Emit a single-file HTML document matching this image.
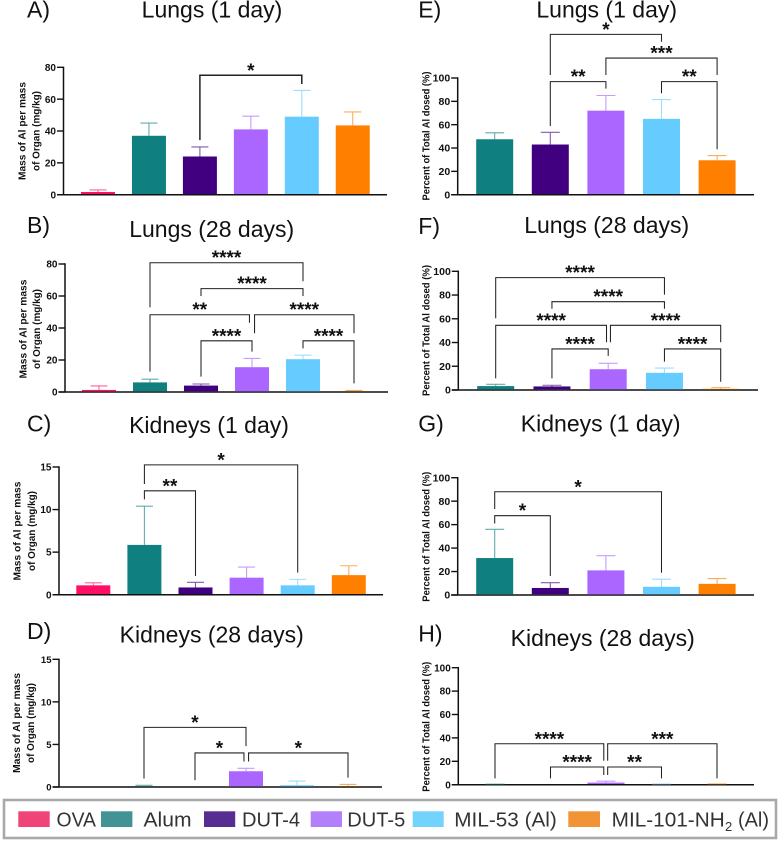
<!DOCTYPE html>
<html lang="en">
<head>
<meta charset="utf-8">
<title>Aluminium biodistribution bar charts</title>
<style>
html,body{margin:0;padding:0;background:#fff;}
svg{display:block;font-family:"Liberation Sans",Arial,sans-serif;filter:blur(0.3px);}
.title{font-size:23px;fill:#111;text-anchor:middle;}
.letter{font-size:23px;fill:#111;}
.tick{font-size:10px;font-weight:bold;fill:#111;text-anchor:end;}
.ylab{font-size:10px;font-weight:bold;fill:#111;text-anchor:middle;}
.stars{font-size:19px;font-weight:bold;fill:#111;text-anchor:middle;}
.leg{font-size:20px;fill:#333;}
</style>
</head>
<body>
<svg id="fig" xmlns="http://www.w3.org/2000/svg" width="779" height="841" viewBox="0 0 779 841">
  <g>
    <rect x="4" y="800" width="772" height="38" fill="#fff" stroke="#a9a9a9" stroke-width="2.6"/>
    <g><rect x="18.3" y="811.3" width="31.4" height="15.7" fill="#ee4478"/><text class="leg" x="56.5" y="826.7" textLength="39.5" lengthAdjust="spacingAndGlyphs">OVA</text></g>
    <g><rect x="101" y="811.3" width="31.4" height="15.7" fill="#439295"/><text class="leg" x="143.5" y="826.7" textLength="48" lengthAdjust="spacingAndGlyphs">Alum</text></g>
    <g><rect x="204" y="811.3" width="31.2" height="15.7" fill="#582d91"/><text class="leg" x="242" y="826.7" textLength="58" lengthAdjust="spacingAndGlyphs">DUT-4</text></g>
    <g><rect x="310.7" y="811.3" width="31.3" height="15.7" fill="#b380fc"/><text class="leg" x="347.3" y="826.7" textLength="58" lengthAdjust="spacingAndGlyphs">DUT-5</text></g>
    <g><rect x="412.7" y="811.3" width="31" height="15.7" fill="#72d3fc"/><text class="leg" x="454.3" y="826.7" textLength="102.5" lengthAdjust="spacingAndGlyphs">MIL-53 (Al)</text></g>
    <g><rect x="568.3" y="811.3" width="31.7" height="15.7" fill="#f19435"/><text class="leg" x="611.7" y="826.7" textLength="113" lengthAdjust="spacingAndGlyphs">MIL-101-NH</text><text class="leg" x="725" y="831" style="font-size:13px">2</text><text class="leg" x="738" y="826.7" textLength="31" lengthAdjust="spacingAndGlyphs">(Al)</text></g>
  </g>
</svg>
<script>
// Categories
var categoriesSix = ['OVA', 'Alum', 'DUT-4', 'DUT-5', 'MIL-53', 'MIL-101'];
var categoriesFive = ['Alum', 'DUT-4', 'DUT-5', 'MIL-53', 'MIL-101'];

// Tick labels
var ticksMassLung = [0, 20, 40, 60, 80];
var ticksMassKidney = [0, 5, 10, 15];
var ticksPercent = [0, 20, 40, 60, 80, 100];

// Means
var meansA = [1.7, 37, 24, 41, 49, 43.5];
var meansB = [1.3, 6, 4, 15.5, 20.5, 0.5];
var meansC = [1.1, 5.85, 0.85, 2.0, 1.1, 2.3];
var meansD = [0, 0.1, 0, 1.85, 0.2, 0.1];
var meansE = [47.5, 43, 72, 65, 29.5];
var meansF = [3.3, 3, 17.5, 14.5, 1];
var meansG = [31.5, 6, 21, 7, 9.5];
var meansH = [0.3, 0, 1.8, 0.3, 0.5];

// Upper end of each error bar
var uppersA = [3, 45, 30, 49.3, 65.5, 52];
var uppersB = [3.8, 8, 5, 21, 23, 1];
var uppersC = [1.4, 10.4, 1.45, 3.25, 1.8, 3.4];
var uppersD = [0, 0.2, 0, 2.2, 0.7, 0.3];
var uppersE = [53, 53.5, 85, 81.5, 33.5];
var uppersF = [4.8, 4, 22.5, 18.5, 2];
var uppersG = [56, 10.5, 33.5, 13.5, 14];
var uppersH = [0.5, 0, 3, 0.6, 0.7];

// Significance: from category, to category, top value, left end value, right end value, stars
var sigA = [[2, 4, 75, 34.3, 69.5, '*']];
var sigB = [[1, 4, 80.8, 52.9, 69.2, '****'], [2, 4, 64.6, 60, 60, '****'], [1, 2.95, 48.3, 12.7, 43.3, '**'], [3.05, 5, 48.3, 36.7, 36.7, '****'], [2, 3, 32, 9.6, 25.2, '****'], [4, 5, 32, 27.3, 5.4, '****']];
var sigC = [[1, 4, 15.25, 13, 2.6, '*'], [1, 2, 12.2, 11.2, 2.2, '**']];
var sigD = [[1, 3, 7, 1, 4.8, '*'], [2, 2.96, 4, 0.8, 3, '*'], [3.05, 5, 4, 3, 1.1, '*']];
var sigE = [[1, 3, 137.4, 102.6, 131.1, '*'], [2, 4, 117.1, 102.6, 102.6, '***'], [1, 2, 96.9, 58.9, 90.9, '**'], [3, 4, 96.9, 86.9, 38.9, '**']];
var sigF = [[0, 3, 94.7, 60.4, 80.3, '****'], [1, 3, 74.4, 68.5, 68.5, '****'], [0, 1.97, 54.5, 9.8, 40.2, '****'], [2.04, 4, 54.5, 40.2, 40.2, '****'], [1, 2, 34.6, 9.8, 28.7, '****'], [3, 4, 34.6, 23.9, 7, '****']];
var sigG = [[0, 3, 88, 73.3, 19, '*'], [0, 1, 67.6, 61, 16.2, '*']];
var sigH = [[0, 1.96, 35, 5.4, 20.5, '****'], [2.03, 4, 35, 20.5, 5.4, '***'], [1, 1.96, 15.1, 5.4, 8.3, '****'], [2.03, 3, 15.1, 8.3, 5.4, '**']];

var barColors = {'OVA': '#ff0f66', 'Alum': '#0f7f7f', 'DUT-4': '#400080', 'DUT-5': '#aa66ff', 'MIL-53': '#66ccff', 'MIL-101': '#ff8000'};

var svg = document.getElementById('fig');
var NS = 'http://www.w3.org/2000/svg';

function make(parent, tag, props, text) {
  var el = document.createElementNS(NS, tag);
  for (var k in props) { el.setAttribute(k, props[k]); }
  if (text !== undefined) { el.textContent = text; }
  parent.appendChild(el);
  return el;
}

function drawPanel(p) {
  var group = make(svg, 'g', {});
  
  

  var xScale = function (i) { return p.x0 + i * p.dx; };
  var yScale = function (v) { return p.y0 - v / p.yMax * (p.y0 - p.yTop); };

  var letter = make(group, 'text', {'class': 'letter', x: p.letterX, y: p.letterY}, p.id + ')');
  
  

  var title = make(group, 'text', {'class': 'title', x: p.titleX, y: p.titleY}, p.title);
  
  

  p.yLabels.forEach(function (lab) {
    var t = make(group, 'text', {'class': 'ylab', x: 0, y: 0, transform: 'translate(' + lab.x + ' ' + p.labelY + ') rotate(-90)', textLength: lab.len, lengthAdjust: 'spacingAndGlyphs'}, lab.text);
    
    
  });

  var yAxis = make(group, 'line', {x1: p.axisX, x2: p.axisX, y1: p.yTop - 0.7, y2: p.y0, stroke: '#111', 'stroke-width': 1.5});
  
  

  var xAxis = make(group, 'line', {x1: p.axisX - 6.5, x2: p.axisEnd, y1: p.y0, y2: p.y0, stroke: '#111', 'stroke-width': 1.5});
  
  

  p.cats.forEach(function (cat, i) {
    var cx = xScale(i);
    var color = barColors[cat];
    var top = yScale(p.means[i]);
    var up = yScale(p.uppers[i]);
    if (p.uppers[i] > 0) {
      var err = make(group, 'path', {d: 'M' + cx + ' ' + top + 'V' + up + 'M' + (cx - p.cap / 2) + ' ' + up + 'H' + (cx + p.cap / 2), fill: 'none', stroke: color, 'stroke-width': 1.1, 'stroke-opacity': 0.65});
      
      
    }
    var bar = make(group, 'rect', {x: cx - p.barW / 2, y: top, width: p.barW, height: Math.max(0, p.y0 - 0.7 - top), fill: color});
    
    
  });

  p.ticks.forEach(function (v) {
    var y = yScale(v);
    var mark = make(group, 'line', {x1: p.axisX - 6.5, x2: p.axisX, y1: y, y2: y, stroke: '#111', 'stroke-width': 1.4});
    
    
    var lab = make(group, 'text', {'class': 'tick', x: p.axisX - 7.5, y: y + 3.6, style: 'font-size:' + p.tickSize + 'px'}, String(v));
    
    
  });

  p.sig.forEach(function (s) {
    var xl = xScale(s[0]), xr = xScale(s[1]);
    var br = make(group, 'path', {d: 'M' + xl + ' ' + yScale(s[3]) + 'V' + yScale(s[2]) + 'H' + xr + 'V' + yScale(s[4]), fill: 'none', stroke: '#222', 'stroke-width': p.brW || 1.05});
    
    
    var st = make(group, 'text', {'class': 'stars', x: (xl + xr) / 2, y: yScale(s[2]) + 1.5}, s[5]);
    
    
  });
}

var massLabel = 'Mass of Al per mass';
var organLabel = 'of Organ (mg/kg)';
var pctLabel = 'Percent of Total Al dosed (%)';

[
 {id: 'A', title: 'Lungs (1 day)', titleX: 212, titleY: 17.5, letterX: 27, letterY: 17.5, cats: categoriesSix, means: meansA, uppers: uppersA, sig: sigA, ticks: ticksMassLung, tickSize: 10, yMax: 80, x0: 98, dx: 50.95, y0: 194.7, yTop: 67.3, axisX: 63.5, axisEnd: 387, barW: 34, cap: 17, brW: 1.5, labelY: 131, yLabels: [{x: 25.5, text: massLabel, len: 98}, {x: 39.5, text: organLabel, len: 80}]},
 {id: 'B', title: 'Lungs (28 days)', titleX: 211.7, titleY: 237, letterX: 27, letterY: 233, cats: categoriesSix, means: meansB, uppers: uppersB, sig: sigB, ticks: ticksMassLung, tickSize: 10, yMax: 80, x0: 99, dx: 51, y0: 392, yTop: 264, axisX: 65, axisEnd: 388, barW: 34, cap: 17, labelY: 329, yLabels: [{x: 26.5, text: massLabel, len: 99}, {x: 40, text: organLabel, len: 80}]},
 {id: 'C', title: 'Kidneys (1 day)', titleX: 209, titleY: 433, letterX: 27, letterY: 431.6, cats: categoriesSix, means: meansC, uppers: uppersC, sig: sigC, ticks: ticksMassKidney, tickSize: 10, yMax: 15, x0: 93.3, dx: 51.1, y0: 594.7, yTop: 467, axisX: 59, axisEnd: 383, barW: 34, cap: 17, labelY: 531, yLabels: [{x: 20.5, text: massLabel, len: 99}, {x: 35, text: organLabel, len: 80}]},
 {id: 'D', title: 'Kidneys (28 days)', titleX: 211.7, titleY: 642.7, letterX: 27, letterY: 639, cats: categoriesSix, means: meansD, uppers: uppersD, sig: sigD, ticks: ticksMassKidney, tickSize: 9.5, yMax: 15, x0: 93, dx: 51, y0: 787, yTop: 659.3, axisX: 59, axisEnd: 382, barW: 34, cap: 17, labelY: 723, yLabels: [{x: 20, text: massLabel, len: 100}, {x: 34, text: organLabel, len: 80}]},
 {id: 'E', title: 'Lungs (1 day)', titleX: 606.7, titleY: 17.5, letterX: 418.3, letterY: 17.5, cats: categoriesFive, means: meansE, uppers: uppersE, sig: sigE, ticks: ticksPercent, tickSize: 10.5, yMax: 100, x0: 494.7, dx: 55.6, y0: 194.7, yTop: 78, axisX: 457.7, axisEnd: 754, barW: 37, cap: 19, labelY: 136, yLabels: [{x: 429.5, text: pctLabel, len: 129}]},
 {id: 'F', title: 'Lungs (28 days)', titleX: 606.7, titleY: 233, letterX: 418.3, letterY: 234, cats: categoriesFive, means: meansF, uppers: uppersF, sig: sigF, ticks: ticksPercent, tickSize: 10.5, yMax: 100, x0: 495.7, dx: 56.25, y0: 390, yTop: 271.3, axisX: 458.3, axisEnd: 758, barW: 37, cap: 19, labelY: 330.5, yLabels: [{x: 429.5, text: pctLabel, len: 131}]},
 {id: 'G', title: 'Kidneys (1 day)', titleX: 600.7, titleY: 431.7, letterX: 418.3, letterY: 431.7, cats: categoriesFive, means: meansG, uppers: uppersG, sig: sigG, ticks: ticksPercent, tickSize: 10.5, yMax: 100, x0: 494.7, dx: 55.6, y0: 595, yTop: 477.7, axisX: 457.7, axisEnd: 754, barW: 37, cap: 19, labelY: 536.7, yLabels: [{x: 429.5, text: pctLabel, len: 130}]},
 {id: 'H', title: 'Kidneys (28 days)', titleX: 602.7, titleY: 646, letterX: 418.3, letterY: 641.7, cats: categoriesFive, means: meansH, uppers: uppersH, sig: sigH, ticks: ticksPercent, tickSize: 10, yMax: 100, x0: 495, dx: 55.5, y0: 784.7, yTop: 667.7, axisX: 458.3, axisEnd: 754, barW: 37, cap: 19, labelY: 726.7, yLabels: [{x: 429.5, text: pctLabel, len: 130}]}
].forEach(drawPanel);
</script>
</body>
</html>
